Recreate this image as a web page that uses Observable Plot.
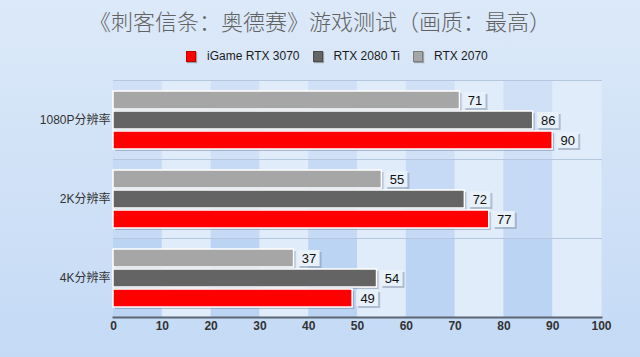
<!DOCTYPE html>
<html>
<head>
<meta charset="utf-8">
<script src="https://cdn.jsdelivr.net/npm/d3@7"></script>
<script src="https://cdn.jsdelivr.net/npm/@observablehq/plot@0.6"></script>
<style>
  html, body { margin: 0; padding: 0; }
  body {
    width: 640px; height: 357px; overflow: hidden; position: relative;
    background: linear-gradient(#dce9f9, #c4daf5);
    font-family: "Liberation Sans", Arial, "Noto Sans CJK SC", sans-serif;
  }
  #title {
    position: absolute; left: 0; top: 5px; width: 640px; text-align: center;
    font-family: "Noto Sans CJK SC", sans-serif; font-weight: 300; font-size: 22px; line-height: 30px;
    color: #626262;
  }
  #legend {
    position: absolute; left: 186px; top: 49px; display: flex;
    align-items: center; font-size: 12px; color: #1a1a1a;
    font-family: "Liberation Sans", Arial, sans-serif;
  }
  #legend .item { display: flex; align-items: center; margin-right: 13px; }
  #legend .sw { width: 8px; height: 9px; margin-right: 11px; box-shadow: 1px 1px 1px rgba(0,0,0,0.3); border: 0.5px solid rgba(0,0,0,0.25); }
  #chart { position: absolute; left: 0; top: 75px; }
</style>
</head>
<body>
<div id="title"></div>
<div id="legend"></div>
<div id="chart"></div>
<script>
const titleText = "《刺客信条：奥德赛》游戏测试（画质：最高）";
const categories = ["1080P分辨率", "2K分辨率", "4K分辨率"];
const series = ["RTX 2070", "RTX 2080 Ti", "iGame RTX 3070"];
const legendOrder = ["iGame RTX 3070", "RTX 2080 Ti", "RTX 2070"];
const colors = ["#a6a6a6", "#646464", "#ff0000"];
const valuesRTX2070 = [71, 55, 37];
const valuesRTX2080Ti = [86, 72, 54];
const valuesRTX3070 = [90, 77, 49];
const xTicks = [0, 10, 20, 30, 40, 50, 60, 70, 80, 90, 100];

const seriesValues = [valuesRTX2070, valuesRTX2080Ti, valuesRTX3070];
const rows = [];
categories.forEach((c, ci) => series.forEach((s, si) => rows.push({cat: c, series: s, value: seriesValues[si][ci]})));
const stripeOpacity = [0.45, 0.75, 1];
const stripes = [];
categories.forEach((c, ci) => d3.pairs(xTicks).forEach(([a, b], i) => {
  if (i % 2 === 0) stripes.push({cat: c, x1: a, x2: b, op: stripeOpacity[ci]});
}));

document.getElementById("title").textContent = titleText;
const leg = document.getElementById("legend");
legendOrder.forEach(s => {
  const it = document.createElement("div"); it.className = "item";
  const sw = document.createElement("span"); sw.className = "sw";
  sw.style.background = colors[series.indexOf(s)];
  const t = document.createElement("span"); t.textContent = s;
  it.appendChild(sw); it.appendChild(t); leg.appendChild(it);
});

const chart = Plot.plot({
  width: 640,
  height: 282,
  marginTop: 5,
  marginBottom: 40,
  marginLeft: 113,
  marginRight: 39,
  style: {background: "transparent", fontFamily: "'Liberation Sans', Arial, 'Noto Sans CJK SC', sans-serif"},
  x: {domain: [0, 100], axis: null},
  y: {domain: series, axis: null, paddingInner: 0.1, paddingOuter: 0.45},
  fy: {domain: categories, padding: 0, axis: null, label: null},
  color: {domain: series, range: colors},
  marks: [
    Plot.frame({fill: "#e1ecfa", stroke: "none"}),
    Plot.rect(stripes, {x1: "x1", x2: "x2", fy: "cat", fill: "#bcd4f4", fillOpacity: "op"}),
    Plot.frame({anchor: "top", stroke: "#b4c7df"}),
    Plot.barX(rows, {x: "value", y: "series", fy: "cat", fill: "#6d7f96", fillOpacity: 0.45, dx: 2, dy: 2}),
    Plot.barX(rows, {x: "value", y: "series", fy: "cat", fill: "series", stroke: "white", strokeWidth: 1.5}),
    Plot.barX(rows, {x1: "value", x2: "value", y: "series", fy: "cat", insetLeft: 4, insetRight: -26, insetTop: 1, insetBottom: 1, fill: "#7d8ea6", fillOpacity: 0.5, dx: 2, dy: 2}),
    Plot.barX(rows, {x1: "value", x2: "value", y: "series", fy: "cat", insetLeft: 4, insetRight: -26, insetTop: 1, insetBottom: 1, fill: "#e8f0fa"}),
    Plot.text(rows, {x: "value", y: "series", fy: "cat", text: d => String(d.value), dx: 15, fontSize: 13, fill: "#111"}),
    Plot.axisFy({anchor: "left", tickSize: 0, tickPadding: 3, fontSize: 12, fill: "#333", label: null}),
    Plot.axisX({ticks: xTicks, tickSize: 0, tickPadding: 4, fontSize: 12, fontWeight: "bold", fill: "#333", label: null}),
    Plot.frame({anchor: "bottom", facetAnchor: "bottom", stroke: "#5b6573", strokeWidth: 2})
  ]
});
document.getElementById("chart").appendChild(chart);
</script>
</body>
</html>
